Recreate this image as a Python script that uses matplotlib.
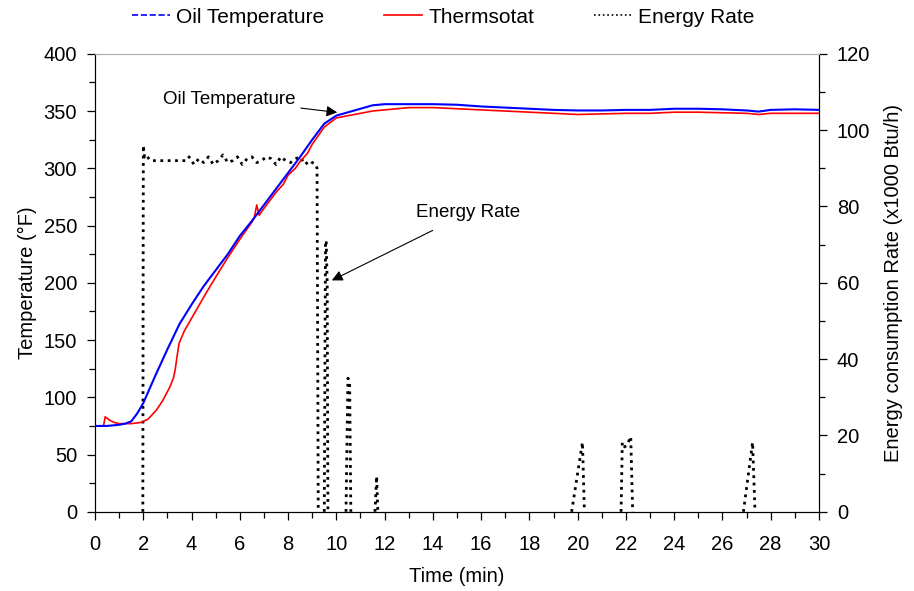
import numpy as np
import matplotlib.pyplot as plt
from matplotlib.lines import Line2D
from matplotlib.ticker import MultipleLocator

plt.rcParams['font.family'] = ['Liberation Sans', 'DejaVu Sans']
plt.rcParams['font.size'] = 14.5

# Oil temperature (deg F) vs time (min)
oil_t = [0, 0.5, 1.0, 1.25, 1.5, 1.75, 2.0, 2.5, 3.0, 3.5, 4.0, 4.5, 5.0, 5.5,
         6.0, 6.5, 7.0, 7.5, 8.0, 8.5, 9.0, 9.5, 10, 10.5, 11, 11.5, 12, 13,
         14, 15, 16, 17, 18, 19, 20, 21, 22, 23, 24, 25, 26, 27, 27.5, 28, 29,
         30]
oil_T = [75, 75, 76, 77, 79, 86, 95, 119, 142, 164, 181, 197, 211, 225, 241,
         254, 268, 282, 296, 310, 325, 339, 346, 349, 352, 355, 356, 356, 356,
         355.5, 354, 353, 352, 351, 350.5, 350.5, 351, 351, 352, 352, 351.5,
         350.5, 349.5, 351, 351.5, 351]

# Thermostat (deg F)
th_t = [0, 0.35, 0.42, 0.6, 0.8, 1.0, 1.5, 1.9, 2.2, 2.55, 2.8, 3.1, 3.25,
        3.32, 3.4, 3.48, 3.7, 4.0, 4.6, 5.0, 5.5, 6.0, 6.5, 6.6, 6.7, 6.8, 7.0,
        7.5, 7.8, 8.0, 8.3, 8.5, 8.8, 9.0, 9.5, 10, 10.5, 11, 11.5, 12, 13, 14,
        15, 16, 17, 18, 19, 20, 21, 22, 23, 24, 25, 26, 27, 27.5, 28, 29, 30]
th_T = [75, 75, 83, 80, 78, 77, 77, 78, 81, 89, 97, 109, 117, 124, 136, 147,
        158, 169, 191, 205, 222, 238, 253, 257, 268, 259, 265, 279, 286, 294,
        300, 306, 313, 321, 336, 344, 346, 348, 350, 351, 353, 353, 352, 351,
        350, 349, 348, 347, 347.5, 348, 348, 349, 349, 348.5, 348, 347, 348,
        348, 348]

# Energy consumption rate (x1000 Btu/h)
en_t = [0, 1.98, 2.0, 2.05, 2.1, 2.3, 2.4, 2.6, 3.0, 3.4, 3.8,
        3.9, 4.1, 4.3, 4.5, 4.7, 4.9, 5.1, 5.3, 5.5, 5.7, 5.9, 6.1, 6.3, 6.5,
        6.7, 6.9, 7.1, 7.3, 7.5, 7.7, 7.9, 8.1, 8.3, 8.5, 8.7, 8.9,
        9.0, 9.15, 9.2, 9.25, 9.5, 9.55, 9.58, 9.62, 9.65, 10.4, 10.48, 10.55,
        10.6, 11.6, 11.67, 11.72, 19.75, 20.2, 20.28, 21.8, 21.85, 21.95, 22.05,
        22.2, 22.28, 26.87, 27.25, 27.35, 30]
en_E = [0, 0, 96, 93, 93.5, 92, 92, 92, 92, 92, 92,
        93, 91, 92.5, 91.5, 93, 91, 92, 93.5, 91.5, 92, 93, 91, 92.5, 93,
        91.5, 92, 93, 92.5, 91, 93, 92, 91.5, 92.5, 93, 91, 92,
        91.5, 91, 90, 0, 0, 71, 71, 60, 0, 0, 35, 34,
        0, 0, 9.3, 0, 0, 18.2, 0, 0, 18.2, 17, 17.5,
        19.7, 0, 0, 18.2, 0, 0]

# break the line wherever it runs along zero, so the baseline is not drawn
plot_t, plot_E = [], []
for i in range(len(en_t)):
    if i > 0 and en_E[i] == 0 and en_E[i - 1] == 0:
        plot_t.append(np.nan)
        plot_E.append(np.nan)
    plot_t.append(en_t[i])
    plot_E.append(en_E[i])

fig, ax = plt.subplots(figsize=(9.14, 5.91), dpi=100)
fig.subplots_adjust(left=0.104, right=0.896, bottom=0.134, top=0.909)
ax2 = ax.twinx()

ax2.plot(plot_t, plot_E, color='black', linestyle=':', linewidth=2)
ax.plot(th_t, th_T, color='red', linewidth=1.2, zorder=3)
ax.plot(oil_t, oil_T, color='blue', linewidth=1.5, zorder=4)
ax.set_zorder(ax2.get_zorder() + 1)
ax.patch.set_visible(False)

ax.set_xlim(0, 30)
ax.set_ylim(0, 400)
ax2.set_ylim(0, 120)
ax.xaxis.set_major_locator(MultipleLocator(2))
ax.xaxis.set_minor_locator(MultipleLocator(1))
ax.yaxis.set_major_locator(MultipleLocator(50))
ax.yaxis.set_minor_locator(MultipleLocator(25))
ax2.yaxis.set_major_locator(MultipleLocator(20))
ax2.yaxis.set_minor_locator(MultipleLocator(10))
for a in (ax, ax2):
    a.spines['top'].set_color('#b0b0b0')
    a.tick_params(which='both', direction='out', width=0.9)
    a.tick_params(which='major', length=6, pad=7)
    a.tick_params(which='minor', length=4)
ax.tick_params(axis='x', which='major', pad=11)

ax.set_xlabel('Time (min)', labelpad=9)
ax.set_ylabel('Temperature (°F)', labelpad=5)
ax2.set_ylabel('Energy consumption Rate (x1000 Btu/h)', labelpad=10)

ax.annotate('Oil Temperature', xy=(10.15, 348.5), xytext=(8.3, 360),
            ha='right', va='center', fontsize=13.5,
            arrowprops=dict(arrowstyle='-|>', color='black', lw=0.8,
                            mutation_scale=16))
ax.annotate('Energy Rate', xy=(9.71, 201), xytext=(15.45, 261),
            ha='center', va='center', fontsize=13.5,
            arrowprops=dict(arrowstyle='-|>', color='black', lw=0.8,
                            mutation_scale=16, shrinkA=10))

handles = [Line2D([], [], color='blue', linestyle='--', linewidth=1.2),
           Line2D([], [], color='red', linewidth=1.2),
           Line2D([], [], color='black', linestyle=':', linewidth=1.2)]
fig.legend(handles, ['Oil Temperature', 'Thermsotat', 'Energy Rate'],
           loc='center', bbox_to_anchor=(0.485, 0.971), ncol=3, frameon=False,
           fontsize=15, columnspacing=2.9, handlelength=1.8,
           handletextpad=0.3)

fig.savefig('out.png')
